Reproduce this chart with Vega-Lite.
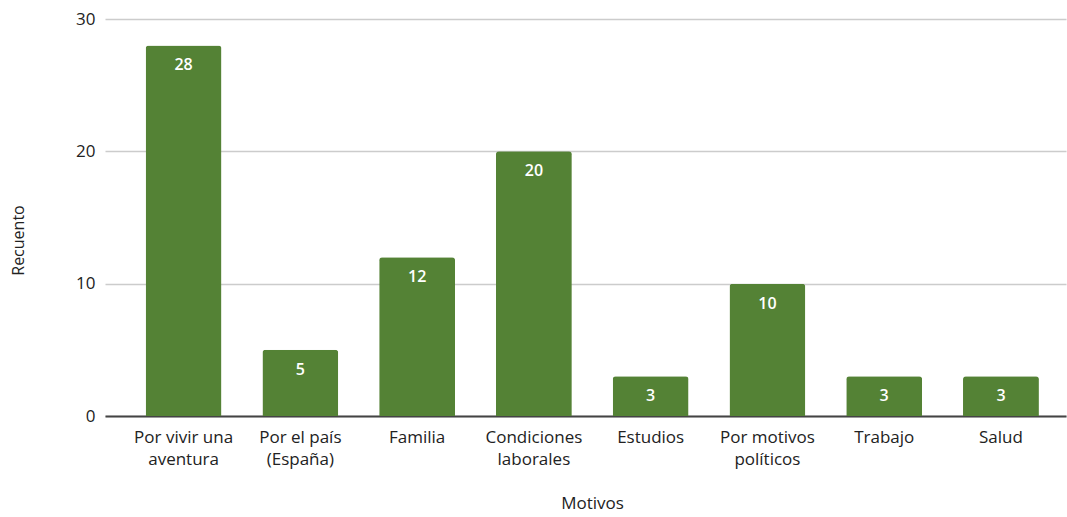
{
  "$schema": "https://vega.github.io/schema/vega-lite/v6.json",
  "autosize": "none",
  "width": 961,
  "height": 397,
  "padding": {"left": 105, "top": 19, "right": 1, "bottom": 101},
  "background": "white",
  "config": {
    "font": "Open Sans",
    "view": {"stroke": null}
  },
  "data": {
    "values": [
      {"motivo": "Por vivir una\naventura", "recuento": 28},
      {"motivo": "Por el país\n(España)", "recuento": 5},
      {"motivo": "Familia", "recuento": 12},
      {"motivo": "Condiciones\nlaborales", "recuento": 20},
      {"motivo": "Estudios", "recuento": 3},
      {"motivo": "Por motivos\npolíticos", "recuento": 10},
      {"motivo": "Trabajo", "recuento": 3},
      {"motivo": "Salud", "recuento": 3}
    ]
  },
  "encoding": {
    "x": {
      "field": "motivo",
      "type": "nominal",
      "sort": null,
      "scale": {"paddingInner": 0.35, "paddingOuter": 0.29, "align": 0.6},
      "axis": {
        "title": "Motivos",
        "titleFont": "Open Sans",
        "titleFontSize": 17,
        "titleFontWeight": "normal",
        "titleColor": "#222222",
        "titleX": 487,
        "titleY": 87,
        "titleBaseline": "middle",
        "labelAngle": 0,
        "labelExpr": "split(datum.label, '\\n')",
        "labelFontSize": 17,
        "labelColor": "#222222",
        "labelLineHeight": 22,
        "labelPadding": 13,
        "labelBaseline": "top",
        "ticks": false,
        "domainColor": "#444444",
        "domainWidth": 2,
        "grid": false
      }
    },
    "y": {
      "field": "recuento",
      "type": "quantitative",
      "scale": {"domain": [0, 30]},
      "axis": {
        "title": "Recuento",
        "titleFontSize": 16,
        "titleFontWeight": "normal",
        "titleColor": "#222222",
        "titleAngle": -90,
        "titleX": -87,
        "titleY": 221,
        "titleAlign": "center",
        "titleBaseline": "middle",
        "values": [0, 10, 20, 30],
        "labelFontSize": 17,
        "labelColor": "#222222",
        "labelPadding": 10,
        "ticks": false,
        "domain": false,
        "gridColor": "#cccccc",
        "gridWidth": 1.5
      }
    }
  },
  "layer": [
    {
      "mark": {"type": "bar", "color": "#548235", "cornerRadiusTopLeft": 3, "cornerRadiusTopRight": 3}
    },
    {
      "mark": {"type": "text", "color": "white", "fontSize": 16, "fontWeight": 600, "baseline": "middle", "dy": 20},
      "encoding": {"text": {"field": "recuento", "type": "quantitative"}}
    }
  ]
}
